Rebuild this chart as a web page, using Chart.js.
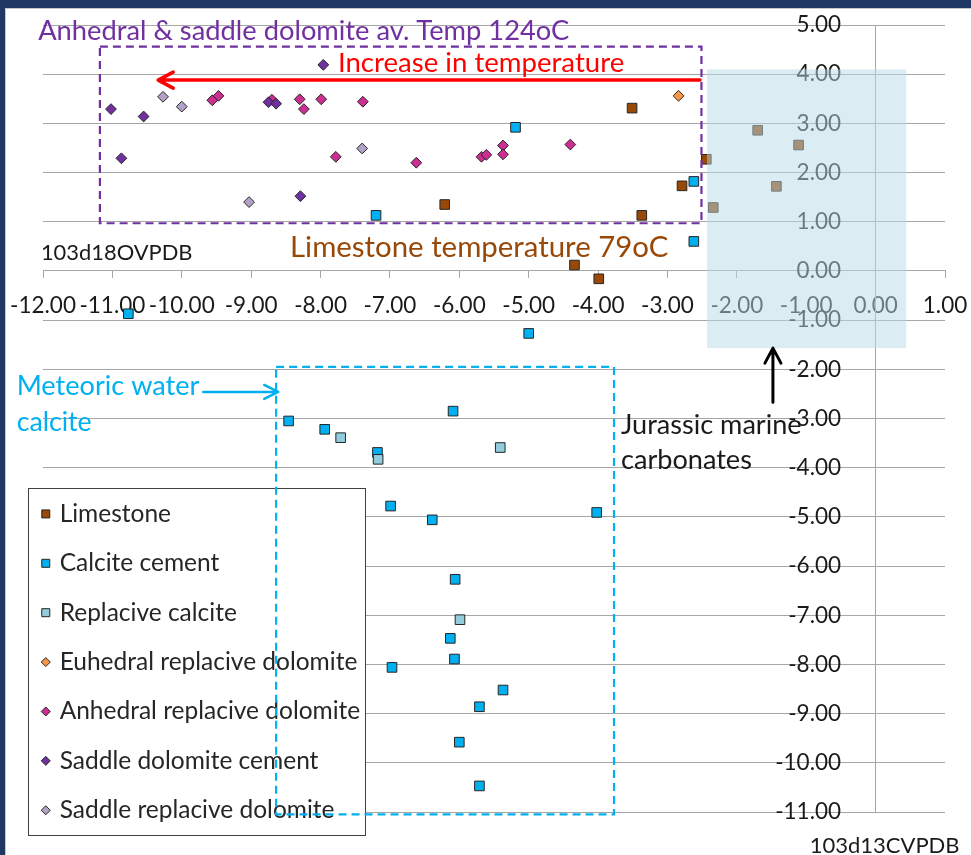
<!DOCTYPE html>
<html>
<head>
<meta charset="utf-8">
<script src="https://cdn.jsdelivr.net/npm/chart.js@4.4.1/dist/chart.umd.min.js"></script>
<style>
  html, body { margin: 0; padding: 0; background: #fff; }
  #frame { position: relative; width: 971px; height: 855px; background: #1f3864; overflow: hidden; }
  #sheet { position: absolute; left: 5px; top: 8px; right: 0; bottom: 0; background: #fff;
           border-left: 1px solid #c8c8c8; border-top: 1px solid #c8c8c8; }
  #chart { position: absolute; left: 0; top: 0; }
</style>
</head>
<body>
<div id="frame">
  <div id="sheet"></div>
  <canvas id="chart" width="971" height="855"></canvas>
</div>
<script>
// d13C (x) / d18O (y) values per sample group
const seriesNames = [
  'Limestone', 'Calcite cement', 'Replacive calcite', 'Euhedral replacive dolomite',
  'Anhedral replacive dolomite', 'Saddle dolomite cement', 'Saddle replacive dolomite',
];
const seriesColors = ['#984807', '#00b0f0', '#93cddd', '#f79646', '#cc2e92', '#7030a0', '#b3a2c7'];
const seriesShapes = ['rect', 'rect', 'rect', 'rectRot', 'rectRot', 'rectRot', 'rectRot'];

const limestoneX = [-6.21, -3.51, -2.44, -2.79, -3.37, -4.34, -3.99, -1.70, -1.11, -1.43, -2.34];
const limestoneY = [1.35, 3.31, 2.27, 1.73, 1.13, 0.12, -0.16, 2.86, 2.56, 1.72, 1.29];

const calciteX = [-7.20, -5.19, -2.62, -2.62, -5.00, -10.77, -8.46, -6.09, -7.94, -7.18, -6.99,
  -6.39, -4.02, -6.06, -6.13, -6.07, -6.97, -5.37, -5.71, -6.00, -5.71];
const calciteY = [1.13, 2.92, 1.82, 0.60, -1.27, -0.87, -3.05, -2.85, -3.22, -3.69, -4.78,
  -5.06, -4.91, -6.27, -7.47, -7.89, -8.06, -8.52, -8.86, -9.58, -10.47];

const replCalciteX = [-7.71, -7.17, -5.41, -5.99];
const replCalciteY = [-3.39, -3.83, -3.59, -7.09];

const euhedralX = [-2.84];
const euhedralY = [3.56];

const anhedralX = [-9.56, -9.47, -8.70, -8.30, -8.24, -7.99, -7.39, -7.78, -6.62, -5.68, -5.61,
  -5.37, -5.37, -4.40];
const anhedralY = [3.47, 3.56, 3.48, 3.49, 3.29, 3.49, 3.44, 2.32, 2.20, 2.32, 2.36, 2.55, 2.37, 2.57];

const saddleCemX = [-11.02, -10.55, -8.75, -8.64, -7.96, -10.87, -8.29];
const saddleCemY = [3.29, 3.14, 3.43, 3.40, 4.19, 2.29, 1.52];

const saddleReplX = [-10.27, -10.00, -7.40, -9.03];
const saddleReplY = [3.54, 3.34, 2.49, 1.40];

const seriesX = [limestoneX, calciteX, replCalciteX, euhedralX, anhedralX, saddleCemX, saddleReplX];
const seriesY = [limestoneY, calciteY, replCalciteY, euhedralY, anhedralY, saddleCemY, saddleReplY];

const xMin = -12, xMax = 1, yMin = -11, yMax = 5;

const FONT = 'Lato, "Open Sans", sans-serif';
const GRID = '#a6a6a6';

function P(chart, x, y) {
  return [chart.scales.x.getPixelForValue(x), chart.scales.y.getPixelForValue(y)];
}

function fitText(ctx, text, x, y, width, color) {
  ctx.font = `100px ${FONT}`;
  const size = 100 * width / ctx.measureText(text).width;
  ctx.font = `${size.toFixed(1)}px ${FONT}`;
  ctx.fillStyle = color;
  ctx.textAlign = 'left';
  ctx.textBaseline = 'middle';
  ctx.fillText(text, x, y);
}

function arrow(ctx, x1, y1, x2, y2, color, lw, head, spread) {
  const a = Math.atan2(y2 - y1, x2 - x1);
  ctx.save();
  ctx.strokeStyle = color;
  ctx.lineWidth = lw;
  ctx.lineCap = 'round';
  ctx.lineJoin = 'round';
  ctx.beginPath();
  ctx.moveTo(x1, y1);
  ctx.lineTo(x2, y2);
  ctx.moveTo(x2 - head * Math.cos(a) + spread * Math.sin(a), y2 - head * Math.sin(a) - spread * Math.cos(a));
  ctx.lineTo(x2, y2);
  ctx.lineTo(x2 - head * Math.cos(a) - spread * Math.sin(a), y2 - head * Math.sin(a) + spread * Math.cos(a));
  ctx.stroke();
  ctx.restore();
}

function dashedRect(ctx, chart, x1, y1, x2, y2, color) {
  const [a, b] = P(chart, x1, y1);
  const [c, d] = P(chart, x2, y2);
  ctx.save();
  ctx.strokeStyle = color;
  ctx.lineWidth = 2.2;
  ctx.setLineDash([8, 5]);
  ctx.strokeRect(a, b, c - a, d - b);
  ctx.restore();
}

function marker(ctx, shape, x, y, r, fill) {
  ctx.save();
  ctx.fillStyle = fill;
  ctx.strokeStyle = '#262626';
  ctx.lineWidth = 1;
  ctx.beginPath();
  if (shape === 'rect') {
    ctx.rect(x - r, y - r, 2 * r, 2 * r);
  } else {
    ctx.moveTo(x, y - r); ctx.lineTo(x + r, y); ctx.lineTo(x, y + r); ctx.lineTo(x - r, y); ctx.closePath();
  }
  ctx.fill();
  ctx.stroke();
  ctx.restore();
}

// axes sit inside the plot, so they should not push the plot area inwards
function noScalePadding(scale) {
  scale.paddingLeft = 0;
  scale.paddingRight = 0;
  scale.paddingTop = 0;
  scale.paddingBottom = 0;
}

const fmt = (v) => (Math.abs(v) < 1e-9 ? 0 : v).toFixed(2);

const overlay = {
  id: 'overlay',
  afterDatasetsDraw(chart) {
    const ctx = chart.ctx;
    // legend box
    const [lx1, ly1] = P(chart, -12.21, -4.42);
    const [lx2, ly2] = P(chart, -7.36, -11.48);
    ctx.save();
    ctx.fillStyle = '#fff';
    ctx.fillRect(lx1, ly1, lx2 - lx1, ly2 - ly1);
    ctx.strokeStyle = '#404040';
    ctx.lineWidth = 1;
    ctx.strokeRect(Math.round(lx1) + 0.5, Math.round(ly1) + 0.5, Math.round(lx2 - lx1), Math.round(ly2 - ly1));
    ctx.restore();
    seriesNames.forEach((name, i) => {
      const [mx, my] = P(chart, -11.96, -4.94 - i * 1.004);
      const [tx] = P(chart, -11.76, 0);
      marker(ctx, seriesShapes[i], mx, my, seriesShapes[i] === 'rect' ? 4 : 4.5, seriesColors[i]);
      ctx.font = `24.5px ${FONT}`;
      ctx.fillStyle = '#262626';
      ctx.textAlign = 'left';
      ctx.textBaseline = 'middle';
      ctx.fillText(name, tx, my);
    });

    // dashed grouping boxes
    dashedRect(ctx, chart, -11.18, 4.56, -2.51, 0.97, '#7030a0');
    dashedRect(ctx, chart, -8.64, -1.95, -3.77, -11.05, '#00b0f0');

    // texts
    let p = P(chart, -12.07, 4.88);
    fitText(ctx, 'Anhedral & saddle dolomite av. Temp 124oC', p[0], p[1], 532, '#7030a0');
    p = P(chart, -7.75, 4.23);
    fitText(ctx, 'Increase in temperature', p[0], p[1], 286, '#ff0000');
    p = P(chart, -12.03, 0.36);
    fitText(ctx, '103d18OVPDB', p[0], p[1], 152, '#1a1a1a');
    p = P(chart, -8.44, 0.47);
    fitText(ctx, 'Limestone temperature 79oC', p[0], p[1], 378, '#984807');
    p = P(chart, -12.38, -2.35);
    fitText(ctx, 'Meteoric water', p[0], p[1], 183, '#00b0f0');
    p = P(chart, -12.38, -3.07);
    fitText(ctx, 'calcite', p[0], p[1], 75, '#00b0f0');
    p = P(chart, -3.67, -3.13);
    fitText(ctx, 'Jurassic marine', p[0], p[1], 181, '#1a1a1a');
    p = P(chart, -3.67, -3.84);
    fitText(ctx, 'carbonates', p[0], p[1], 131, '#1a1a1a');
    p = P(chart, -0.95, -11.68);
    fitText(ctx, '103d13CVPDB', p[0], p[1], 150, '#1a1a1a');

    // arrows
    let a = P(chart, -2.53, 3.88), b = P(chart, -10.34, 3.88);
    arrow(ctx, a[0], a[1], b[0], b[1], '#ff0000', 3.5, 15, 8);
    a = P(chart, -9.69, -2.46); b = P(chart, -8.61, -2.46);
    arrow(ctx, a[0], a[1], b[0], b[1], '#00b0f0', 2.5, 14, 7);
  },
  afterDraw(chart) {
    const ctx = chart.ctx;
    const [x1, y1] = P(chart, -2.43, 4.10);
    const [x2, y2] = P(chart, 0.44, -1.57);
    ctx.save();
    ctx.fillStyle = 'rgba(183, 220, 232, 0.5)';
    ctx.fillRect(x1, y1, x2 - x1, y2 - y1);
    ctx.restore();
    const a = P(chart, -1.48, -2.67), b = P(chart, -1.48, -1.57);
    arrow(ctx, a[0], a[1], b[0], b[1], '#000', 3, 15, 8);
  },
};

const datasets = seriesNames.map((name, i) => ({
  label: name,
  data: seriesX[i].map((x, k) => ({ x, y: seriesY[i][k] })),
  pointStyle: seriesShapes[i],
  pointRadius: seriesShapes[i] === 'rect' ? 6.8 : 5.4,
  pointBackgroundColor: seriesColors[i],
  pointBorderColor: '#262626',
  pointBorderWidth: 1,
  showLine: false,
  order: seriesNames.length - i,
}));

new Chart(document.getElementById('chart'), {
  type: 'scatter',
  data: { datasets },
  options: {
    responsive: false,
    animation: false,
    devicePixelRatio: 1,
    layout: { padding: { left: 43, right: 26, top: 25, bottom: 43 } },
    plugins: { legend: { display: false }, tooltip: { enabled: false } },
    scales: {
      x: {
        type: 'linear',
        min: xMin,
        max: xMax,
        position: { y: 0 },
        afterFit: noScalePadding,
        grid: { drawOnChartArea: false, drawTicks: true, tickLength: 7, color: GRID },
        border: { color: GRID, width: 1 },
        ticks: {
          stepSize: 1,
          autoSkip: false,
          maxRotation: 0,
          padding: 14,
          color: '#1a1a1a',
          font: { family: FONT, size: 22.5 },
          callback: fmt,
        },
      },
      y: {
        type: 'linear',
        min: yMin,
        max: yMax,
        position: { x: 0 },
        afterFit: noScalePadding,
        grid: { drawOnChartArea: true, drawTicks: false, color: GRID },
        border: { color: GRID, width: 1 },
        ticks: {
          stepSize: 1,
          autoSkip: false,
          padding: 0,
          color: '#1a1a1a',
          font: { family: FONT, size: 22.5 },
          // labels hug the axis line; trailing spaces keep the gap seen in the original
          callback: (v) => fmt(v) + '      ',
        },
      },
    },
  },
  plugins: [overlay],
});
</script>
</body>
</html>
